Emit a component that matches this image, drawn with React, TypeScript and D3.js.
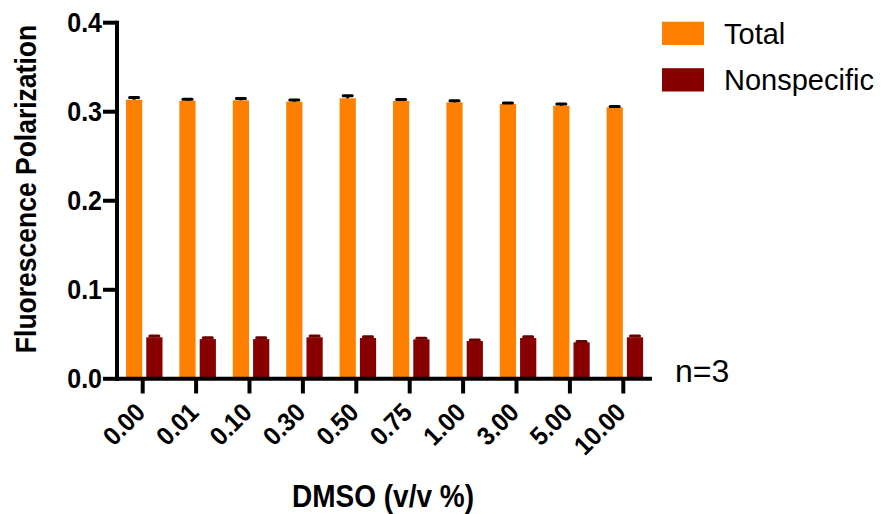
import React from "react";
import * as d3 from "d3";

const categories = ["0.00", "0.01", "0.10", "0.30", "0.50", "0.75", "1.00", "3.00", "5.00", "10.00"];
const seriesNames = ["Total", "Nonspecific"];
const totalValues = [0.3135, 0.3124, 0.3128, 0.3113, 0.3151, 0.3121, 0.3106, 0.3087, 0.3068, 0.305];
const totalErrors = [0.0025, 0.0015, 0.002, 0.0018, 0.0028, 0.0016, 0.0018, 0.0012, 0.0018, 0.001];
const nonspecificValues = [0.0466, 0.0446, 0.0446, 0.0466, 0.0458, 0.0443, 0.0424, 0.0458, 0.0409, 0.0466];
const nonspecificErrors = [0.0015, 0.0015, 0.0015, 0.0015, 0.0015, 0.0012, 0.0012, 0.0015, 0.001, 0.0015];
const yTicks = [0, 0.1, 0.2, 0.3, 0.4];
const colors = ["#FF8000", "#880000"];
const errColors = ["#000000", "#6a0000"];

const FONT = "'Liberation Sans', Arial, Helvetica, sans-serif";

export default function App() {
  const W = 881, H = 514;
  const x = d3.scaleBand<string>().domain(categories).range([116, 650]).padding(0);
  const sub = d3.scaleBand<string>().domain(seriesNames).range([10, 46.5]).paddingInner(0.2);
  const y = d3.scaleLinear().domain([0, 0.4]).range([378.8, 22.7]);

  const series = [
    { name: seriesNames[0], values: totalValues, errors: totalErrors },
    { name: seriesNames[1], values: nonspecificValues, errors: nonspecificErrors },
  ];

  return (
    <svg width={W} height={H} style={{ position: "absolute", left: 0, top: 0, background: "#fff" }} fontFamily={FONT}>
      {/* bars */}
      {series.map((s, si) =>
        categories.map((c, i) => {
          const bx = (x(c) as number) + (sub(s.name) as number);
          const bw = sub.bandwidth();
          const top = y(s.values[i]);
          const cx = bx + bw / 2;
          const e1 = y(s.values[i] + s.errors[i]);
          return (
            <g key={s.name + c}>
              <rect x={bx} y={top} width={bw} height={y(0) - top} fill={colors[si]} />
              <line x1={cx} x2={cx} y1={top} y2={e1} stroke={errColors[si]} strokeWidth={3} />
              <line x1={cx - 4.5} x2={cx + 4.5} y1={e1} y2={e1} stroke={errColors[si]} strokeWidth={3} strokeLinecap="round" />
            </g>
          );
        })
      )}
      {/* y axis */}
      <line x1={117} x2={117} y1={20.7} y2={381} stroke="#000" strokeWidth={4} />
      {yTicks.map((t) => (
        <g key={t}>
          <line x1={103} x2={117} y1={y(t)} y2={y(t)} stroke="#000" strokeWidth={4} />
          <text
            transform={`translate(102,${y(t) + 9.5}) scale(1,1.08)`}
            textAnchor="end"
            fontSize={25}
            fontWeight="bold"
          >
            {t.toFixed(1)}
          </text>
        </g>
      ))}
      {/* x axis */}
      <line x1={115} x2={652} y1={378.8} y2={378.8} stroke="#000" strokeWidth={4} />
      {categories.map((c) => {
        const cx = (x(c) as number) + x.bandwidth() / 2;
        return (
          <g key={c}>
            <line x1={cx} x2={cx} y1={378.8} y2={393.5} stroke="#000" strokeWidth={4} />
            <text
              transform={`translate(${cx + 4},${414}) rotate(-45) scale(1,1.08)`}
              textAnchor="end"
              fontSize={24}
              fontWeight="bold"
            >
              {c}
            </text>
          </g>
        );
      })}
      {/* axis titles */}
      <text transform="translate(35.5,189) rotate(-90) scale(1,1.13)" textAnchor="middle" fontSize={26.5} fontWeight="bold">
        Fluorescence Polarization
      </text>
      <text transform="translate(383,506.5) scale(1,1.1)" textAnchor="middle" fontSize={28} fontWeight="bold">
        DMSO (v/v %)
      </text>
      {/* legend */}
      {seriesNames.map((n, i) => (
        <g key={n}>
          <rect x={662} y={21.7 + i * 46.5} width={42} height={23.3} fill={colors[i]} />
          <text x={724} y={43.5 + i * 46.8} fontSize={29}>
            {n}
          </text>
        </g>
      ))}
      <text x={675} y={381.5} fontSize={32}>
        n=3
      </text>
    </svg>
  );
}
